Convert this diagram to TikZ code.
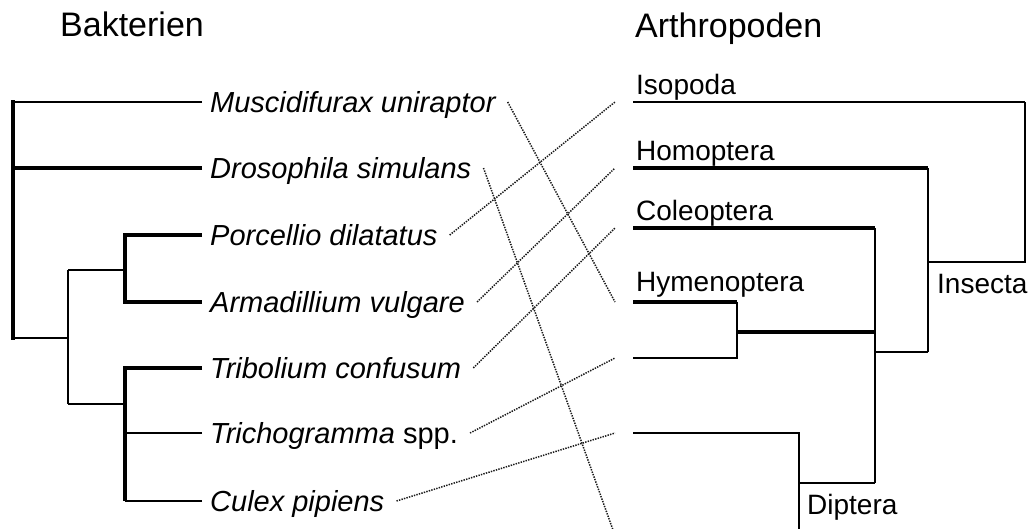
\documentclass[tikz,border=0pt]{standalone}
\usepackage{fontspec}
\setmainfont{Liberation Sans}
\usetikzlibrary{positioning}

\begin{document}
\begin{tikzpicture}[x=1pt, y=-1pt,
    thin line/.style={line width=1.4pt},
    mid line/.style={line width=2.6pt},
    thick line/.style={line width=4pt},
    link/.style={line width=1.5pt, dash pattern=on 1.4pt off 1.2pt, black!90},
    taxon/.style={anchor=west, inner sep=0pt, text height=21pt, text depth=0pt,
        font=\fontsize{29}{34}\selectfont\itshape},
    order/.style={anchor=base west, inner sep=0pt, font=\fontsize{28}{33}\selectfont},
    head/.style={anchor=base west, inner sep=0pt, font=\fontsize{34}{41}\selectfont}]
    \useasboundingbox (0,0) rectangle (1034,528);

    % Ueberschriften
    \node[head] (bak) at (60,36) {Bakterien};
    \node[head] (arth) at (635,37) {Arthropoden};

    % Bakterien: Blaetter
    \coordinate (b-mus) at (202,102);
    \coordinate (b-dro) at (202,168);
    \coordinate (b-por) at (202,235);
    \coordinate (b-arm) at (202,302);
    \coordinate (b-tri) at (202,368);
    \coordinate (b-tgr) at (202,433);
    \coordinate (b-cul) at (202,501);
    \node[taxon, right=8pt of b-mus] (mus) {Muscidifurax uniraptor};
    \node[taxon, right=8pt of b-dro] (dro) {Drosophila simulans};
    \node[taxon, right=8pt of b-por] (por) {Porcellio dilatatus};
    \node[taxon, right=8pt of b-arm] (arm) {Armadillium vulgare};
    \node[taxon, right=8pt of b-tri] (tri) {Tribolium confusum};
    \node[taxon, right=8pt of b-tgr] (tgr) {Trichogramma \upshape spp.};
    \node[taxon, right=8pt of b-cul] (cul) {Culex pipiens};

    % Bakterien: Verzweigungen
    \coordinate (root) at (13,338);
    \coordinate (bk1) at (68,338);
    \coordinate (bk2) at (125,270);
    \coordinate (bk3) at (125,404);
    \draw[thin line] (b-mus) -- (b-mus -| root);
    \draw[thick line] (b-dro) -- (b-dro -| root);
    \draw[thick line, line cap=rect] (b-mus -| root) -- (root);
    \draw[mid line] (root) -- (bk1);
    \draw[thin line] (bk1 |- bk2) -- (bk1 |- bk3);
    \draw[thin line] (bk1 |- bk2) -- (bk2);
    \draw[thin line] (bk1 |- bk3) -- (bk3);
    \draw[thick line] (b-por) -- (b-por -| bk2) -- (b-arm -| bk2) -- (b-arm);
    \draw[thick line] (b-tri) -- (b-tri -| bk3) -- (b-cul -| bk3);
    \draw[mid line] (b-tgr) -- (b-tgr -| bk3);
    \draw[mid line] (b-cul) -- (b-cul -| bk3);

    % Arthropoden: Blaetter
    \coordinate (a-iso) at (633,102);
    \coordinate (a-hom) at (633,168);
    \coordinate (a-col) at (633,228);
    \coordinate (a-hym) at (633,302);
    \coordinate (a-hym2) at (633,358);
    \coordinate (a-dip) at (633,433);
    \node[order] (iso) at (636,94) {Isopoda};
    \node[order] (hom) at (636,160) {Homoptera};
    \node[order] (col) at (636,220) {Coleoptera};
    \node[order] (hym) at (636,291) {Hymenoptera};

    % Arthropoden: Verzweigungen
    \coordinate (k-iso) at (1025,262);
    \coordinate (k-ins) at (928,352);
    \coordinate (k-rest) at (875,483);
    \coordinate (k-hym) at (737,332);
    \coordinate (k-dip) at (799,483);
    \coordinate (dip-foot) at (799,530);
    \draw[thin line] (a-iso) -- (a-iso -| k-iso);
    \draw[mid line] (a-iso -| k-iso) -- (k-iso) -- (k-iso -| k-ins);
    \draw[thick line] (a-hom) -- (a-hom -| k-ins);
    \draw[thin line] (a-hom -| k-ins) -- (k-ins);
    \draw[mid line] (k-ins) -- (k-ins -| k-rest);
    \draw[thick line] (a-col) -- (a-col -| k-rest);
    \draw[thin line] (a-col -| k-rest) -- (k-rest);
    \draw[thick line] (a-hym) -- (a-hym -| k-hym);
    \draw[mid line] (a-hym -| k-hym) -- (a-hym2 -| k-hym) -- (a-hym2);
    \draw[thick line] (k-hym) -- (k-hym -| k-rest);
    \draw[mid line] (a-dip) -- (a-dip -| k-dip) -- (dip-foot);
    \draw[mid line] (k-dip) -- (k-rest);
    \node[order] (ins) at (937,293) {Insecta};
    \node[order] (dip) at (807,514) {Diptera};

    % Zuordnung
    \coordinate (dro-end) at (613,530);
    \draw[link] ([xshift=12pt]mus.east) -- ([xshift=-18pt]a-hym);
    \draw[link] ([xshift=12pt]dro.east) -- (dro-end);
    \draw[link] ([xshift=12pt]por.east) -- ([xshift=-18pt]a-iso);
    \draw[link] ([xshift=12pt]arm.east) -- ([xshift=-18pt]a-hom);
    \draw[link] ([xshift=12pt]tri.east) -- ([xshift=-18pt]a-col);
    \draw[link] ([xshift=12pt]tgr.east) -- ([xshift=-18pt]a-hym2);
    \draw[link] ([xshift=12pt]cul.east) -- ([xshift=-18pt]a-dip);
\end{tikzpicture}
\end{document}
